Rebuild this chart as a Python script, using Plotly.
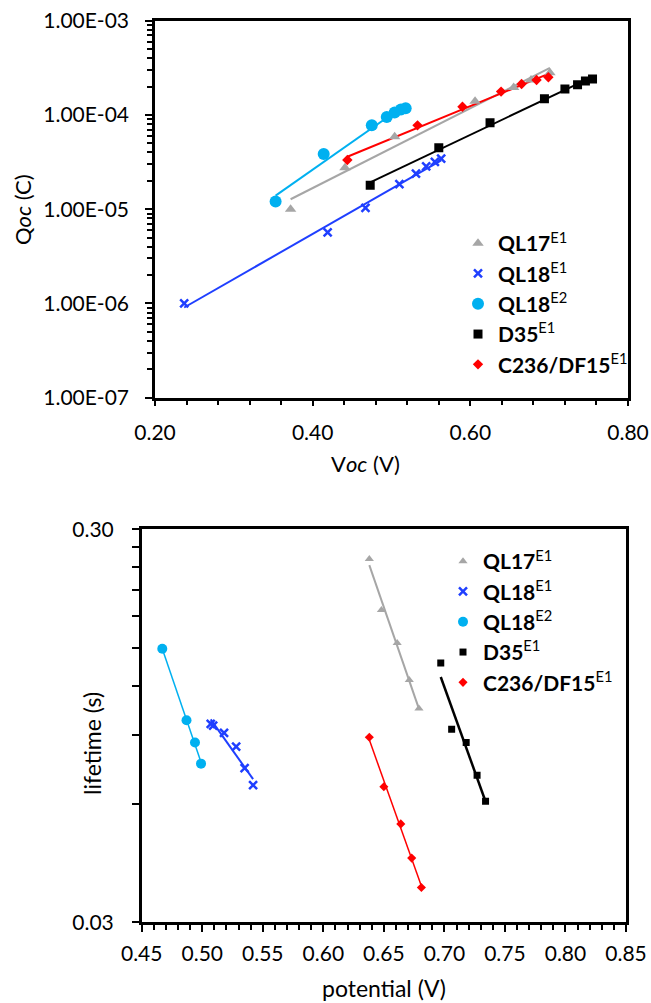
import numpy as np
import plotly.graph_objects as go

# ---------------- data: top chart (Qoc vs Voc) ----------------
ql17_voc = [0.372, 0.441, 0.504, 0.606, 0.655, 0.677, 0.701]
ql17_q = [1.00e-5, 2.75e-5, 5.87e-5, 1.40e-4, 1.96e-4, 2.35e-4, 2.81e-4]
ql18e1_voc = [0.237, 0.419, 0.467, 0.510, 0.531, 0.544, 0.555, 0.563]
ql18e1_q = [1.00e-6, 5.69e-6, 1.03e-5, 1.84e-5, 2.38e-5, 2.85e-5, 3.17e-5, 3.44e-5]
ql18e2_voc = [0.353, 0.414, 0.475, 0.494, 0.504, 0.512, 0.518]
ql18e2_q = [1.21e-5, 3.85e-5, 7.76e-5, 9.5e-5, 1.06e-4, 1.14e-4, 1.18e-4]
d35_voc = [0.473, 0.560, 0.625, 0.694, 0.720, 0.736, 0.746, 0.755]
d35_q = [1.79e-5, 4.5e-5, 8.28e-5, 1.49e-4, 1.88e-4, 2.09e-4, 2.29e-4, 2.40e-4]
c236_voc = [0.444, 0.533, 0.590, 0.639, 0.665, 0.684, 0.699]
c236_q = [3.33e-5, 7.76e-5, 1.22e-4, 1.77e-4, 2.13e-4, 2.35e-4, 2.51e-4]

# ---------------- data: bottom chart (lifetime vs potential) ----------------
ql17_pot = [0.638, 0.648, 0.661, 0.671, 0.679]
ql17_tau = [0.252, 0.187, 0.154, 0.124, 0.105]
ql18e1_pot = [0.507, 0.509, 0.518, 0.528, 0.535, 0.542]
ql18e1_tau = [0.096, 0.095, 0.091, 0.084, 0.074, 0.067]
ql18e2_pot = [0.467, 0.487, 0.494, 0.499]
ql18e2_tau = [0.149, 0.098, 0.086, 0.076]
d35_pot = [0.697, 0.706, 0.718, 0.727, 0.734]
d35_tau = [0.137, 0.093, 0.086, 0.071, 0.061]
c236_pot = [0.638, 0.650, 0.664, 0.673, 0.681]
c236_tau = [0.0887, 0.0664, 0.0534, 0.0437, 0.0368]

names = ["<b>QL17</b><sup>E1</sup>", "<b>QL18</b><sup>E1</sup>", "<b>QL18</b><sup>E2</sup>",
         "<b>D35</b><sup>E1</sup>", "<b>C236/DF15</b><sup>E1</sup>"]

top_y_ticks = [1e-7, 1e-6, 1e-5, 1e-4, 1e-3]
top_y_text = ["1.00E-07", "1.00E-06", "1.00E-05", "1.00E-04", "1.00E-03"]
top_y_minor = [m * 10.0 ** e for e in range(-7, -3) for m in range(2, 10)]
bot_y_ticks = [0.03, 0.30]
bot_y_text = ["0.03", "0.30"]
bot_y_minor = [0.06, 0.09, 0.12, 0.15, 0.18, 0.21, 0.24, 0.27]

colors = ["#A6A6A6", "#1F3FFF", "#00B0F0", "#000000", "#FF0000"]
symbols = ["triangle-up", "x-thin-open", "circle", "square", "diamond"]
top_sizes = [10, 8, 12, 9, 8]
bot_sizes = [8, 8, 10, 7, 7]
top_lw = [2, 2, 2, 2, 2]
bot_lw = [2, 2, 1.5, 2.5, 1.5]

FONT = "Lato"

def fit_line(x, y):
    x = np.asarray(x, float)
    p = np.polyfit(x, np.log10(np.asarray(y, float)), 1)
    xs = np.array([x.min(), x.max()])
    return xs, 10 ** np.polyval(p, xs)

fig = go.Figure()

top_sets = [(ql17_voc, ql17_q), (ql18e1_voc, ql18e1_q), (ql18e2_voc, ql18e2_q),
            (d35_voc, d35_q), (c236_voc, c236_q)]
bot_sets = [(ql17_pot, ql17_tau), (ql18e1_pot, ql18e1_tau), (ql18e2_pot, ql18e2_tau),
            (d35_pot, d35_tau), (c236_pot, c236_tau)]

def marker(i, size):
    if symbols[i] == "x-thin-open":
        return dict(symbol=symbols[i], size=size, color=colors[i], line=dict(color=colors[i], width=2.5))
    return dict(symbol=symbols[i], size=size, color=colors[i], line=dict(width=0))

# top chart
for i, (x, y) in enumerate(top_sets):
    lx, ly = fit_line(x, y)
    fig.add_trace(go.Scatter(x=lx, y=ly, mode="lines", line=dict(color=colors[i], width=top_lw[i]),
                             showlegend=False, hoverinfo="skip", xaxis="x", yaxis="y"))
for i, (x, y) in enumerate(top_sets):
    fig.add_trace(go.Scatter(x=x, y=y, mode="markers", marker=marker(i, top_sizes[i]),
                             name=names[i], legend="legend", xaxis="x", yaxis="y"))

# bottom chart
for i, (x, y) in enumerate(bot_sets):
    lx, ly = fit_line(x, y)
    fig.add_trace(go.Scatter(x=lx, y=ly, mode="lines", line=dict(color=colors[i], width=bot_lw[i]),
                             showlegend=False, hoverinfo="skip", xaxis="x2", yaxis="y2"))
for i, (x, y) in enumerate(bot_sets):
    fig.add_trace(go.Scatter(x=x, y=y, mode="markers", marker=marker(i, bot_sizes[i]),
                             name=names[i], legend="legend2", xaxis="x2", yaxis="y2"))

W, H = 651, 1003
def px_x(p):
    return p / W
def px_y(p):
    return 1 - p / H

axis_common = dict(showgrid=False, zeroline=False, showline=True, linecolor="black", linewidth=2.5,
                   mirror=True, ticks="outside", tickcolor="black", tickwidth=2, automargin=False,
                   tickfont=dict(family=FONT, size=21, color="black"))

def title_ann(text, x, y, angle, size):
    return dict(text=text, x=px_x(x), y=px_y(y), xref="paper", yref="paper", xanchor="center",
                yanchor="middle", textangle=angle, showarrow=False,
                font=dict(family=FONT, size=size, color="black"))

fig.update_layout(
    width=W, height=H, margin=dict(l=0, r=0, t=0, b=0, autoexpand=False),
    paper_bgcolor="white", plot_bgcolor="white",
    font=dict(family=FONT, color="black"),
    xaxis=dict(axis_common, domain=[px_x(155), px_x(628)], range=[0.2, 0.8], dtick=0.2, tick0=0.2,
               tickformat=".2f", ticklen=6, ticklabelstandoff=8,
               minor=dict(dtick=0.04, tick0=0.2, ticks="outside", ticklen=5, tickwidth=2, tickcolor="black"),
               anchor="y"),
    yaxis=dict(axis_common, type="log", domain=[px_y(397.7), px_y(20.7)], range=[-7, -3],
               tickmode="array", tickvals=top_y_ticks, ticktext=top_y_text, ticklen=7,
               ticklabelstandoff=12,
               minor=dict(tickmode="array", tickvals=top_y_minor, ticks="outside", ticklen=5,
                          tickwidth=2, tickcolor="black"),
               anchor="x"),
    xaxis2=dict(axis_common, domain=[px_x(141.7), px_x(626)], range=[0.45, 0.85], dtick=0.05, tick0=0.45,
                tickformat=".2f", ticklen=7, ticklabelstandoff=4,
                minor=dict(dtick=0.01, tick0=0.45, ticks="outside", ticklen=5, tickwidth=2, tickcolor="black"),
                anchor="y2"),
    yaxis2=dict(axis_common, type="log", domain=[px_y(922.3), px_y(529.3)],
                range=[np.log10(0.03), np.log10(0.3)],
                tickmode="array", tickvals=bot_y_ticks, ticktext=bot_y_text, ticklen=7,
                ticklabelstandoff=14,
                minor=dict(tickmode="array", tickvals=bot_y_minor, ticks="outside", ticklen=7,
                           tickwidth=2, tickcolor="black"),
                anchor="x2"),
    legend=dict(x=px_x(458), y=px_y(223), xanchor="left", yanchor="top", bgcolor="rgba(0,0,0,0)",
                font=dict(family=FONT, size=21, color="black"), itemwidth=30, tracegroupgap=0),
    legend2=dict(x=px_x(443), y=px_y(541), xanchor="left", yanchor="top", bgcolor="rgba(0,0,0,0)",
                 font=dict(family=FONT, size=21, color="black"), itemwidth=30, tracegroupgap=0),
    annotations=[
        title_ann("Q<i>oc</i> (C)", 22, 210, -90, 22),
        title_ann("V<i>oc</i> (V)", 365, 463, 0, 22),
        title_ann("lifetime (s)", 92, 744, -90, 23),
        title_ann("potential (V)", 384, 988, 0, 23),
    ],
)

fig.write_html("out.html", config={"displayModeBar": False},
               post_script="document.body.style.margin='0px';document.body.style.overflow='hidden';")
